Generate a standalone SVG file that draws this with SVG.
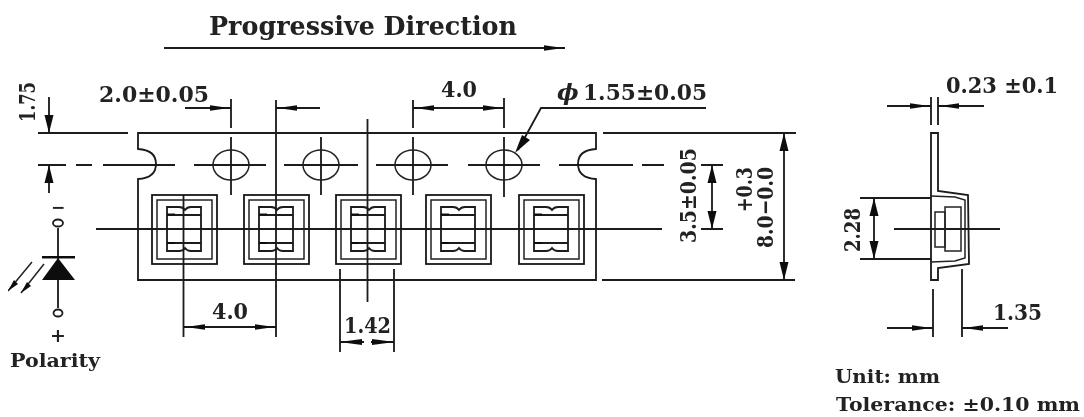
<svg xmlns="http://www.w3.org/2000/svg" width="1084" height="417" viewBox="0 0 1084 417">
<style>
text{font-family:"DejaVu Serif","Liberation Serif",serif;font-weight:700;fill:#222}
.l{fill:none;stroke:#1a1a1a;stroke-width:1.8}
.t{fill:none;stroke:#222;stroke-width:1.5}
.s{font-size:23px}
.h{marker-end:url(#a)}
.b{marker-start:url(#a);marker-end:url(#a)}
</style>
<defs>
<marker id="a" markerUnits="userSpaceOnUse" markerWidth="26" markerHeight="10" refX="24" refY="5" orient="auto-start-reverse" viewBox="0 0 26 10">
<path d="M24 5L17 4.200L3 2.200V7.800L17 5.800Z" fill="#111"/>
</marker>
<g id="pocket">
<rect class="l" x="0" y="0" width="65" height="69"/>
<rect class="t" x="5" y="5" width="55" height="59"/>
<path class="l" d="M15 12H27Q31 12 33 15Q35 12 39 12H49V56H39Q35 56 33 53Q31 56 27 56H15Z"/>
<path class="l" d="M15 20H49M15 48H49"/>
<path d="M15 18.500H23V20.500H15ZM15 47H23V49H15Z" fill="#111"/>
</g>
<filter id="soft" x="0" y="0" width="100%" height="100%"><feGaussianBlur stdDeviation="0.4"/></filter>
</defs>
<rect width="1084" height="417" fill="#fff"/>
<g filter="url(#soft)">
<g id="connectors">
<path class="l h" d="M164 48H565"/>
<path class="l" d="M38 165H66M76 165H92M103 165H175M194 165H266M284 165H358M376 165H448M468 165H540M559 165H633M642 165H664"/>
<path class="l" d="M96 229H662M701 229H723M701 165H723"/>
<path class="l" d="M38 133H128M603 133H796M602 280H795"/>
<path class="l" d="M231 99V128M231 137V195M321 137V195M413 137V195M504 137V197M413 100V128M504 98V128"/>
<path class="l" d="M183.500 195V337M276 100V337M367.500 119V302M340 269V352M394 269V352"/>
<path class="l b" d="M184 327H276"/>
<path class="l b" d="M413 108H504"/>
<path class="l h" d="M185 108H231"/>
<path class="l h" d="M320 108H276"/>
<path class="l" d="M340 342H364M371 342H394"/>
<path d="M340 342L347 341L362 339V345L347 343ZM394 342L387 341L372 339V345L387 343Z" fill="#111"/>
<path class="l" d="M706 108H541L518 150"/>
<path d="M515 153L522 135L530 140Z" fill="#111"/>
<path class="l" d="M49 97V133M49 165V193"/>
<path d="M49 133L44.500 115H53.500ZM49 165L44.500 183H53.500Z" fill="#111"/>
<path class="l" d="M712 165V229M784 133V280"/>
<path d="M712 165L707.500 183H716.500ZM712 229L707.500 211H716.500ZM784 133L779.500 151H788.500ZM784 280L779.500 262H788.500Z" fill="#111"/>
<path class="l" d="M931 97V125M938 97V125"/>
<path class="l h" d="M887 106H931"/>
<path class="l h" d="M984 106H938"/>
<path class="l" d="M860 198H931M860 259H931M874 198V259M894 229H1000"/>
<path d="M874 198L869.500 216H878.500ZM874 259L869.500 241H878.500Z" fill="#111"/>
<path class="l" d="M933 289V337M962 269V337"/>
<path class="l h" d="M887 328H933"/>
<path class="l h" d="M1008 328H962"/>
</g>
<g id="tape">
<path class="l" d="M138 133H596V149Q578 150 578 164Q578 178 596 179V280H138V179Q156 178 156 164Q156 150 138 149Z"/>
<g class="t"><ellipse cx="231" cy="165" rx="18" ry="15"/><ellipse cx="321" cy="165" rx="18" ry="15"/><ellipse cx="413" cy="165" rx="18" ry="15"/><ellipse cx="504" cy="165" rx="18" ry="15"/></g>
</g>
<use id="pocket-1" href="#pocket" x="152" y="195"/>
<use id="pocket-2" href="#pocket" x="244" y="195"/>
<use id="pocket-3" href="#pocket" x="336" y="195"/>
<use id="pocket-4" href="#pocket" x="426" y="195"/>
<use id="pocket-5" href="#pocket" x="519" y="195"/>
<g id="diode">
<path class="l" d="M58 228V308"/>
<path d="M42 256H75V258.500H42Z" fill="#111"/>
<ellipse class="l" cx="58" cy="223" rx="5" ry="3.500" fill="#fff"/>
<ellipse class="l" cx="58" cy="313" rx="4.500" ry="3.500"/>
<path d="M42 280H75L58 258Z" fill="#111"/>
<path class="t" d="M8 291L32 262M21 293L44 264"/>
<path d="M8 291L18 284L14 280ZM21 293L31 286L27 282Z" fill="#111"/>
<text x="58" y="213" font-size="17" text-anchor="middle">−</text>
<text x="58" y="342" font-size="19" text-anchor="middle">+</text>
</g>
<g id="side-view">
<path class="l" d="M931 133H938V191L968 195L969 264L938 268V280H931Z"/>
<path class="t" d="M931 196L955 197L965 200V258L955 261L931 262"/>
<rect class="t" x="935" y="212" width="10" height="35"/>
<rect class="t" x="945" y="207" width="16" height="44"/>
</g>
<g id="labels">
<text x="209" y="35" font-size="26" textLength="308" lengthAdjust="spacingAndGlyphs">Progressive Direction</text>
<text class="s" x="99" y="102" textLength="110" lengthAdjust="spacingAndGlyphs">2.0±0.05</text>
<text class="s" x="441" y="97" textLength="36" lengthAdjust="spacingAndGlyphs">4.0</text>
<text class="s" x="557" y="100" font-style="italic" font-weight="400">ϕ</text>
<text class="s" x="583" y="100" textLength="124" lengthAdjust="spacingAndGlyphs">1.55±0.05</text>
<text class="s" x="946" y="93" textLength="112" lengthAdjust="spacingAndGlyphs">0.23 ±0.1</text>
<text class="s" x="212" y="319" textLength="36" lengthAdjust="spacingAndGlyphs">4.0</text>
<text class="s" x="344" y="333" textLength="47" lengthAdjust="spacingAndGlyphs">1.42</text>
<text class="s" x="993" y="320" textLength="49" lengthAdjust="spacingAndGlyphs">1.35</text>
<text class="s" transform="translate(35 122) rotate(-90)" textLength="40" lengthAdjust="spacingAndGlyphs">1.75</text>
<text class="s" transform="translate(696 243) rotate(-90)" textLength="95" lengthAdjust="spacingAndGlyphs">3.5±0.05</text>
<text class="s" transform="translate(773 248) rotate(-90)" textLength="81" lengthAdjust="spacingAndGlyphs">8.0−0.0</text>
<text class="s" transform="translate(752 212) rotate(-90)" textLength="45" lengthAdjust="spacingAndGlyphs">+0.3</text>
<text class="s" transform="translate(860 252) rotate(-90)" textLength="44" lengthAdjust="spacingAndGlyphs">2.28</text>
<text x="10" y="367" font-size="18" textLength="90" lengthAdjust="spacingAndGlyphs">Polarity</text>
<text x="835" y="383" font-size="19" textLength="105" lengthAdjust="spacingAndGlyphs">Unit: mm</text>
<text x="836" y="411" font-size="19" textLength="244" lengthAdjust="spacingAndGlyphs">Tolerance: ±0.10 mm</text>
</g>
</g>
</svg>
